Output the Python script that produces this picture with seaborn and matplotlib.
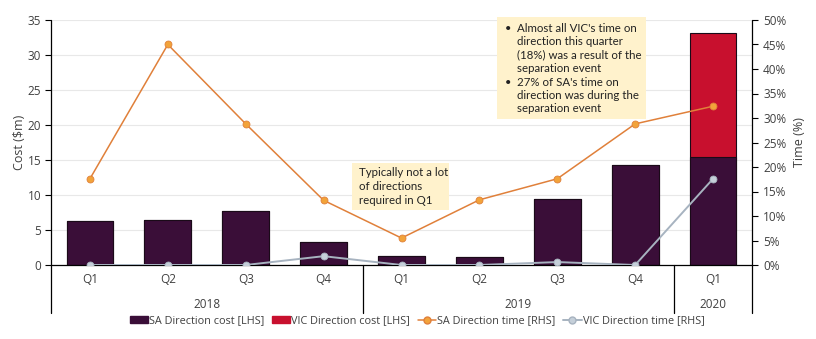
import numpy as np
import pandas as pd
import matplotlib
matplotlib.use("Agg")
import matplotlib.pyplot as plt
import seaborn as sns
from matplotlib.patches import Rectangle, Patch
from matplotlib.lines import Line2D
import matplotlib.transforms as mtransforms

# ---- data ----
quarters = ["Q1", "Q2", "Q3", "Q4", "Q1", "Q2", "Q3", "Q4", "Q1"]
years = ["2018", "2018", "2018", "2018", "2019", "2019", "2019", "2019", "2020"]
sa_cost = [6.3, 6.4, 7.7, 3.3, 1.3, 1.1, 9.4, 14.3, 15.4]
vic_cost = [0.0, 0.0, 0.0, 0.0, 0.0, 0.0, 0.0, 0.0, 17.7]
sa_time = [17.6, 45.0, 28.8, 13.2, 5.5, 13.3, 17.6, 28.8, 32.4]
vic_time = [0.0, 0.0, 0.0, 1.8, 0.0, 0.0, 0.6, 0.0, 17.6]
year_labels = ["2018", "2019", "2020"]

SA_COL = "#3A0E38"
VIC_COL = "#C8102E"
SA_LINE = "#E0803A"
SA_MARK = "#F2A33A"
VIC_LINE = "#A7B3C0"
VIC_MARK = "#C5CFD9"
TXT = "#404040"

sns.set_theme(style="white")
plt.rcParams["font.family"] = ["Open Sans", "DejaVu Sans"]

cats = [f"{q} {y}" for q, y in zip(quarters, years)]
df = pd.DataFrame({"cat": cats, "sa": sa_cost, "vic": vic_cost,
                   "total": np.array(sa_cost) + np.array(vic_cost),
                   "sa_time": sa_time, "vic_time": vic_time,
                   "pos": np.arange(len(cats))})

fig = plt.figure(figsize=(8.16, 3.39), dpi=100)
ax = fig.add_axes([51/816, 74/339, 701/816, 245/339])

sns.barplot(data=df, x="cat", y="total", order=cats, color=VIC_COL, width=0.6,
            edgecolor="#1a0a18", linewidth=0.8, saturation=1, ax=ax)
sns.barplot(data=df, x="cat", y="sa", order=cats, color=SA_COL, width=0.6,
            edgecolor="#1a0a18", linewidth=0.8, saturation=1, ax=ax)

ax.set_xlim(-0.5, len(cats) - 0.5)
ax.set_ylim(0, 35)
ax.set_yticks(np.arange(0, 36, 5))
ax.grid(axis="y", color="#E8E8E8", linewidth=0.8)
ax.set_axisbelow(True)
ax.set_xticks(range(len(cats)))
ax.set_xticklabels(quarters)
ax.tick_params(axis="x", length=0, pad=6, labelsize=8.5, labelcolor=TXT)
ax.tick_params(axis="y", left=True, length=4, width=0.8, color="black", pad=3,
               labelsize=8.5, labelcolor=TXT)
ax.set_xlabel("")
ax.set_ylabel("Cost ($m)", fontsize=9, color=TXT, labelpad=1)
for s in ["top", "right", "left"]:
    ax.spines[s].set_visible(False)
ax.spines["bottom"].set_color("black")
ax.spines["bottom"].set_linewidth(0.9)

ax2 = ax.twinx()
sns.lineplot(data=df, x="pos", y="sa_time", color=SA_LINE, linewidth=1.1,
             marker="o", markersize=5, markerfacecolor=SA_MARK,
             markeredgecolor=SA_LINE, markeredgewidth=0.6, ax=ax2)
sns.lineplot(data=df, x="pos", y="vic_time", color=VIC_LINE, linewidth=1.4,
             marker="o", markersize=5, markerfacecolor=VIC_MARK,
             markeredgecolor=VIC_LINE, markeredgewidth=0.6, ax=ax2)
ax2.set_ylim(0, 50)
ax2.set_yticks(np.arange(0, 51, 5))
ax2.set_yticklabels([f"{v}%" for v in range(0, 51, 5)])
ax2.tick_params(axis="y", right=True, length=4, width=0.8, color="black", pad=4,
                labelsize=8.5, labelcolor=TXT)
ax2.set_ylabel("Time (%)", fontsize=9, color=TXT, labelpad=5)
ax2.set_xlabel("")
ax2.set_xlim(-0.5, len(cats) - 0.5)
for s in ["top", "right", "left", "bottom"]:
    ax2.spines[s].set_visible(False)

# axis lines extending below the plot and group separators
ybot = -48/245
for xf in [0.0, 1.0]:
    ax2.add_line(Line2D([xf, xf], [ybot, 1.0], transform=ax2.transAxes,
                        color="black", linewidth=0.9, clip_on=False))
trans = mtransforms.blended_transform_factory(ax2.transData, ax2.transAxes)
for xs in [3.5, 7.5]:
    ax2.add_line(Line2D([xs, xs], [ybot, 0], transform=trans,
                        color="black", linewidth=0.9, clip_on=False))
for lab, xc in zip(year_labels, [1.5, 5.5, 8.0]):
    ax2.text(xc, -40/245, lab, transform=trans, ha="center", va="center",
             fontsize=8.5, color=TXT)

# annotation boxes
box1 = Rectangle(((497-51)/701, (265-119)/245), 149/701, 102/245,
                 transform=ax2.transAxes, facecolor="#FFF2CC", edgecolor="none",
                 clip_on=False, zorder=5)
ax2.add_patch(box1)
lines1 = [("•", "Almost all VIC's time on"), ("", "direction this quarter"),
          ("", "(18%) was a result of the"), ("", "separation event"),
          ("•", "27% of SA's time on"), ("", "direction was during the"),
          ("", "separation event")]
for i, (b, t) in enumerate(lines1):
    yy = (265 - (28 + i*13.5))/245
    if b:
        ax2.text((505-51)/701, yy, b, transform=ax2.transAxes, fontsize=8,
                 va="center", ha="left", color="#222222", zorder=6,
                 family=["Lato", "DejaVu Sans"])
    ax2.text((517-51)/701, yy, t, transform=ax2.transAxes, fontsize=8.3,
             va="center", ha="left", color="#222222", zorder=6,
             family=["Lato", "DejaVu Sans"])

box2 = Rectangle(((352-51)/701, (265-210)/245), 97/701, 47/245,
                 transform=ax2.transAxes, facecolor="#FFF2CC", edgecolor="none",
                 clip_on=False, zorder=5)
ax2.add_patch(box2)
lines2 = ["Typically not a lot", "of directions", "required in Q1"]
for i, t in enumerate(lines2):
    yy = (265 - (173 + i*13.5))/245
    ax2.text((359-51)/701, yy, t, transform=ax2.transAxes, fontsize=8.3,
             va="center", ha="left", color="#222222", zorder=6,
             family=["Lato", "DejaVu Sans"])

handles = [Patch(facecolor=SA_COL, edgecolor=SA_COL),
           Patch(facecolor=VIC_COL, edgecolor=VIC_COL),
           Line2D([], [], color=SA_LINE, marker="o", markersize=5,
                  markerfacecolor=SA_MARK, markeredgecolor=SA_LINE, linewidth=1.1),
           Line2D([], [], color=VIC_LINE, marker="o", markersize=5,
                  markerfacecolor=VIC_MARK, markeredgecolor=VIC_LINE, linewidth=1.4)]
labels = ["SA Direction cost [LHS]", "VIC Direction cost [LHS]",
          "SA Direction time [RHS]", "VIC Direction time [RHS]"]
if ax2.get_legend():
    ax2.get_legend().remove()
fig.legend(handles, labels, loc="center", bbox_to_anchor=(0.511, 1 - 321/339),
           ncol=4, frameon=False, fontsize=7.8, handlelength=1.7,
           handleheight=0.6, handletextpad=0.1, columnspacing=0.7,
           labelcolor=TXT)

fig.savefig("out.png", dpi=100)
